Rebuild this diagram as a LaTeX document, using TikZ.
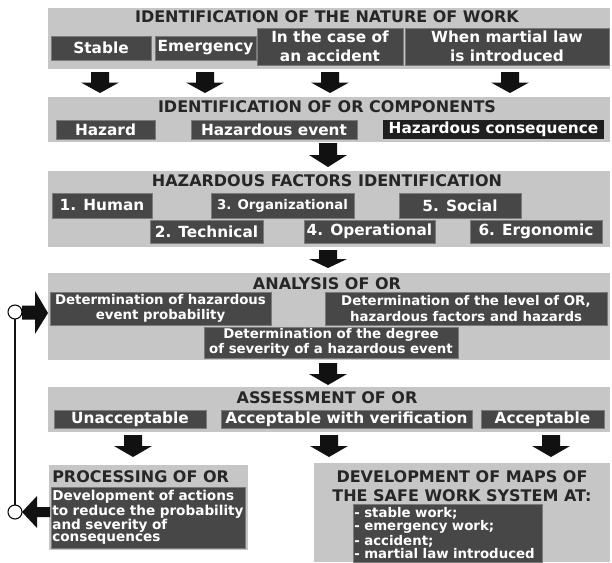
\documentclass[tikz,border=0pt]{standalone}
\usepackage{fontspec}
\setmainfont{DejaVu Sans}
\usetikzlibrary{positioning}

\newlength{\px}
\setlength{\px}{0.75pt}
\hyphenpenalty=10000
\definecolor{panelgray}{HTML}{C6C6C6}
\definecolor{boxgray}{HTML}{474747}
\definecolor{boxdark}{HTML}{1F1F1F}
\definecolor{boxedge}{HTML}{7A7A7A}
\definecolor{arrowblack}{HTML}{111111}

% block arrow pointing down: centre x, top y, tip y
\newcommand{\DownArrow}[3]{%
  \fill[ArrowStyle] ({#1-9},#2) -- ({#1+9},#2) -- ({#1+9},{(#2+#3)/2})
    -- ({#1+19},{(#2+#3)/2}) -- (#1,#3) -- ({#1-19},{(#2+#3)/2})
    -- ({#1-9},{(#2+#3)/2}) -- cycle;}

\begin{document}
\begin{tikzpicture}[x=0.75pt,y=-0.75pt]
  \tikzset{PanelStyle/.style = {
    shape         = rectangle,
    fill          = panelgray,
    draw          = none,
    anchor        = north west,
    inner sep     = 0pt,
    outer sep     = 0pt
    }
  }
  \tikzset{BoxStyle/.style = {
    shape         = rectangle,
    fill          = boxgray,
    draw          = boxedge,
    line width    = 0.6pt,
    text          = white,
    font          = \bfseries\fontsize{11.5}{14}\selectfont,
    align         = center,
    anchor        = north west,
    inner xsep    = 2pt,
    inner ysep    = 0pt,
    outer sep     = 0pt
    }
  }
  \tikzset{SmallBoxStyle/.style = {
    BoxStyle,
    font          = \bfseries\fontsize{10}{11.5}\selectfont
    }
  }
  \tikzset{ListBoxStyle/.style = {
    BoxStyle,
    align         = left,
    inner xsep    = 1pt
    }
  }
  \tikzset{TitleStyle/.style = {
    text          = black!85,
    font          = \bfseries\fontsize{12}{13.8}\selectfont,
    align         = center,
    inner sep     = 0pt
    }
  }
  \tikzset{SizeStyle/.style 2 args = {minimum width=#1\px, minimum height=#2\px}}
  \tikzset{ArrowStyle/.style = {fill = arrowblack}}
  \tikzset{CircleStyle/.style = {
    shape         = circle,
    draw          = black,
    fill          = white,
    line width    = 0.8pt,
    minimum size  = 14\px,
    inner sep     = 0pt,
    outer sep     = 0pt
    }
  }
  \tikzset{LoopStyle/.style = {draw = arrowblack, line width = 2.2pt}}

  \useasboundingbox (0,0) rectangle (612,562);

  % nature of work
  \node[PanelStyle, SizeStyle={562}{61}] (P1) at (48,8) {};
  \node[TitleStyle] (T1) at (327,17) {IDENTIFICATION OF THE NATURE OF WORK};
  \node[BoxStyle, SizeStyle={100}{24}] (B11) at (51,36) {Stable};
  \node[BoxStyle, SizeStyle={99}{24}] (B12) at (155,36) {Emergency};
  \node[BoxStyle, SizeStyle={146}{37}] (B13) at (257,28) {In the case of\\an accident};
  \node[BoxStyle, SizeStyle={204}{37}] (B14) at (405,28) {When martial law\\is introduced};
  \DownArrow{100}{72}{93}
  \DownArrow{205}{72}{93}
  \DownArrow{330}{72}{93}
  \DownArrow{510}{72}{93}

  % components
  \node[PanelStyle, SizeStyle={562}{45}] (P2) at (48,97) {};
  \node[TitleStyle] (T2) at (327,107) {IDENTIFICATION OF OR COMPONENTS};
  \node[BoxStyle, SizeStyle={99}{19}] (B21) at (56,120) {Hazard};
  \node[BoxStyle, SizeStyle={166}{19}] (B22) at (191,120) {Hazardous event};
  \node[BoxStyle, SizeStyle={221}{19}, fill=boxdark, draw=none] (B23) at (383,120) {Hazardous consequence};
  \DownArrow{328}{143}{167}

  % hazardous factors
  \node[PanelStyle, SizeStyle={562}{76}] (P3) at (48,171) {};
  \node[TitleStyle] (T3) at (327,181) {HAZARDOUS FACTORS IDENTIFICATION};
  \node[BoxStyle, SizeStyle={100}{25}] (B31) at (52,193) {1. Human};
  \node[SmallBoxStyle, SizeStyle={143}{25}] (B33) at (211,193) {3. Organizational};
  \node[BoxStyle, SizeStyle={122}{25}] (B35) at (399,193) {5. Social};
  \node[BoxStyle, SizeStyle={113}{23}] (B32) at (150,220) {2. Technical};
  \node[BoxStyle, SizeStyle={127}{23}] (B34) at (304,220) {4. Operational};
  \node[BoxStyle, SizeStyle={132}{23}] (B36) at (470,220) {6. Ergonomic};
  \DownArrow{328}{250}{268}

  % analysis
  \node[PanelStyle, SizeStyle={562}{87}] (P4) at (48,273) {};
  \node[TitleStyle] (T4) at (327,284) {ANALYSIS OF OR};
  \node[SmallBoxStyle, SizeStyle={221}{33}] (B41) at (50,292) {Determination of hazardous\\event probability};
  \node[SmallBoxStyle, SizeStyle={282}{33}] (B42) at (325,292) {Determination of the level of OR,\\hazardous factors and hazards};
  \node[SmallBoxStyle, SizeStyle={254}{31}] (B43) at (204,327) {Determination of the degree\\of severity of a hazardous event};
  \DownArrow{328}{363}{385}

  % assessment
  \node[PanelStyle, SizeStyle={562}{45}] (P5) at (48,387) {};
  \node[TitleStyle] (T5) at (327,398) {ASSESSMENT OF OR};
  \node[BoxStyle, SizeStyle={152}{18}] (B51) at (54,410) {Unacceptable};
  \node[BoxStyle, SizeStyle={251}{18}] (B52) at (221,410) {Acceptable with verification};
  \node[BoxStyle, SizeStyle={123}{18}] (B53) at (481,410) {Acceptable};
  \DownArrow{133}{435}{457}
  \DownArrow{329}{435}{457}
  \DownArrow{551}{435}{457}

  % processing
  \node[PanelStyle, SizeStyle={199}{85}] (P6) at (49,465) {};
  \node[TitleStyle, anchor=west] (T6) at (52,477) {PROCESSING OF OR};
  \node[ListBoxStyle, font=\bfseries\fontsize{10.2}{9.2}\selectfont,
    text width=192\px, minimum height=61\px] (B61) at (51,487)
    {Development of actions\\to reduce the probability\\and severity of\\consequences};

  % maps
  \node[PanelStyle, SizeStyle={296}{99}] (P7) at (314,463) {};
  \node[TitleStyle] (T7) at (462,486) {DEVELOPMENT OF MAPS OF\\THE SAFE WORK SYSTEM AT:};
  \node[ListBoxStyle, font=\bfseries\fontsize{10}{7.8}\selectfont,
    text width=187\px, minimum height=58\px] (B71) at (353,504)
    {- stable work;\\- emergency work;\\- accident;\\- martial law introduced};

  % feedback loop
  \node[CircleStyle] (C1) at (15,312) {};
  \node[CircleStyle] (C2) at (15,512) {};
  \draw[LoopStyle] (C1) -- (C2);
  \fill[ArrowStyle] (C1.east) ++(0,-6.5) -- ++(13,0) -- ++(0,-14.5) -- (48,313)
    -- (35,334) -- (35,319.5) -- (C1.east |- 0,319.5) -- cycle;
  \fill[ArrowStyle] (50,507) -- (37,507) -- (37,496) -- (C2.east) -- (37,528)
    -- (37,517) -- (50,517) -- cycle;
\end{tikzpicture}
\end{document}
